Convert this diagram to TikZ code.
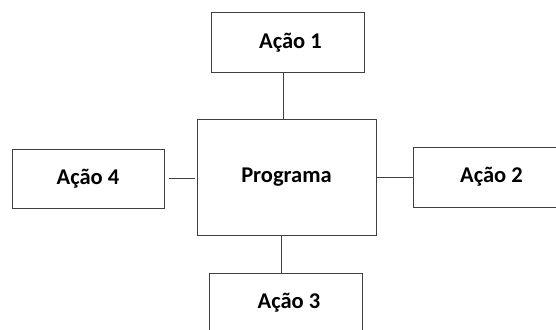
\documentclass[tikz,border=0pt]{standalone}
\usepackage{fontspec}
\setmainfont{Carlito}

\begin{document}
\begin{tikzpicture}[x=1pt,y=-1pt,
  caixa/.style={draw=black!75,line width=1pt,inner sep=0pt,
    minimum width=153pt,minimum height=59pt,
    font=\fontsize{22.5}{27}\selectfont\bfseries},
  liga/.style={draw=black!75,line width=1pt}]
  \useasboundingbox (0,0) rectangle (556,329);
  \clip (0,0) rectangle (556,329);
  \node[caixa,minimum width=179pt,minimum height=116pt] (programa) at (286.5,177) {\raisebox{4pt}{Programa}};
  \node[caixa] (acao1) at (287.5,42.5) {\hspace*{6pt}Ação 1};
  \node[caixa,minimum height=60pt] (acao2) at (489.5,177) {\hspace*{4pt}Ação 2};
  \node[caixa] (acao3) at (285.5,302.5) {\hspace*{7pt}Ação 3};
  \node[caixa,minimum width=152pt] (acao4) at (88,178.5) {Ação 4};
  \draw[liga] ([xshift=-4pt]acao1.south) -- ([xshift=-4pt]acao1.south |- programa.north);
  \draw[liga] (programa.east |- acao2.west) -- (acao2.west);
  \draw[liga] ([xshift=-4pt]acao3.north |- programa.south) -- ([xshift=-4pt]acao3.north);
  \draw[liga] ([xshift=4pt]acao4.east) -- ([xshift=-2pt]programa.west |- acao4.east);
\end{tikzpicture}
\end{document}
